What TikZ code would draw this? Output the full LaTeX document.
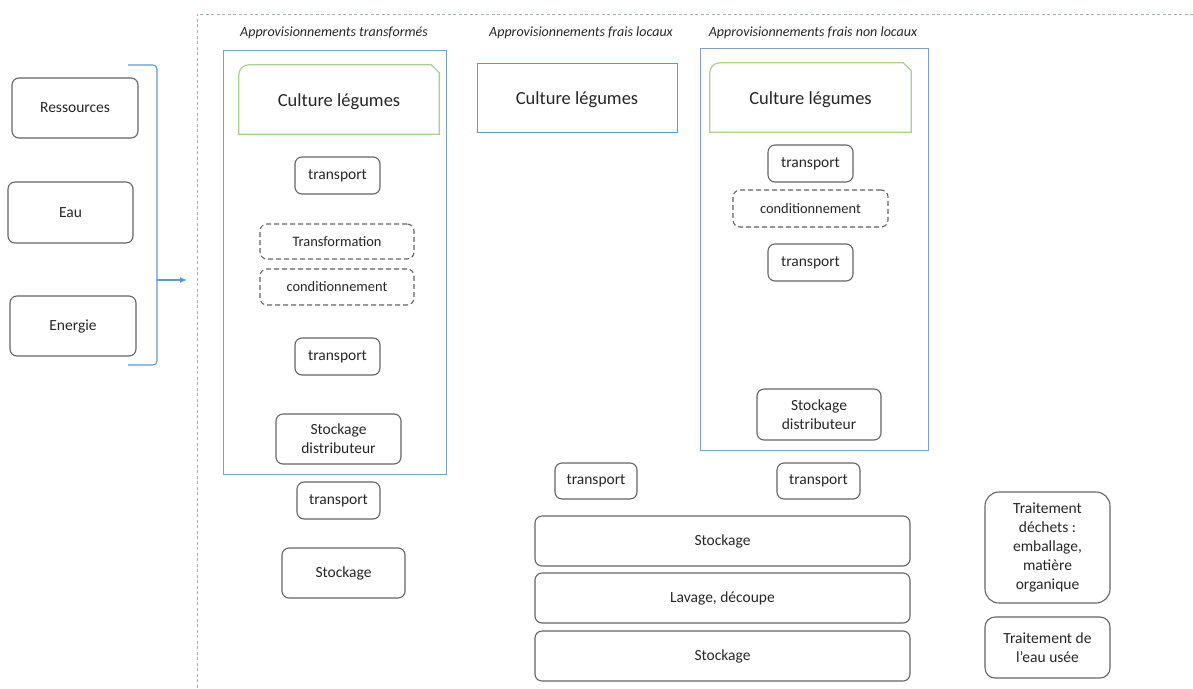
\documentclass[tikz,border=0pt]{standalone}
\usepackage{fontspec}
\setmainfont{Carlito}
\usetikzlibrary{arrows.meta}
\definecolor{boitegris}{RGB}{100,100,100}
\definecolor{texte}{RGB}{38,38,38}
\definecolor{bleu}{RGB}{91,155,213}
\definecolor{bleugroupe}{RGB}{125,160,205}
\definecolor{bleucadre}{RGB}{150,175,205}
\definecolor{vert}{RGB}{169,209,142}
\tikzstyle{etape}=[draw=boitegris,rounded corners=7pt,line width=1.1pt,align=center,text=texte,inner sep=0pt,font=\fontsize{15.5}{19}\selectfont]
\tikzstyle{etaped}=[etape,dashed,dash pattern=on 5pt off 3pt,font=\fontsize{14.4}{17}\selectfont]
\tikzstyle{groupe}=[draw=bleugroupe,line width=1pt,inner sep=0pt]
\tikzstyle{culture}=[inner sep=0pt,text=texte,text height=16pt,text depth=2pt,font=\fontsize{18.5}{22}\selectfont]
\tikzstyle{titre}=[text=texte,font=\itshape\fontsize{14}{17}\selectfont]

\begin{document}
\begin{tikzpicture}[x=1pt,y=-1pt]
    \useasboundingbox (0,0) rectangle (1193,688);
    % cadre pointille
    \draw[bleucadre,line width=1pt,dash pattern=on 3pt off 2.5pt] (1193,14) -- (197,14) -- (197,688);

    % ressources
    \node[etape,minimum width=126,minimum height=60] (res) at (75,108) {Ressources};
    \node[etape,minimum width=125,minimum height=61] (eau) at (70.5,212.5) {Eau};
    \node[etape,minimum width=126,minimum height=60] (ener) at (73,326) {Energie};
    \draw[bleu,line width=1.1pt,rounded corners=4pt] (128,65) -- (157,65) -- (157,365) -- (128,365);
    \coordinate (acc) at (157,280);
    \coordinate (entree) at (187,280);
    \draw[bleu,line width=1.1pt,-{Latex[length=7pt,width=6pt]}] (acc) -- (entree);

    % titres
    \node[titre] (t1) at (334,33) {Approvisionnements transformés};
    \node[titre] (t2) at (581,33) {Approvisionnements frais locaux};
    \node[titre] (t3) at (813,33) {Approvisionnements frais non locaux};

    % approvisionnements transformes
    \node[groupe,minimum width=223,minimum height=424] (grp1) at (334.5,262) {};
    \node[culture,minimum width=200,minimum height=69] (cult1) at (339,99.5) {Culture légumes};
    \node[etape,minimum width=85,minimum height=37] (trA1) at (337.5,175.5) {transport};
    \node[etaped,minimum width=154,minimum height=35] (transfo) at (337,241.5) {Transformation};
    \node[etaped,minimum width=154,minimum height=36] (condA) at (337,287) {conditionnement};
    \node[etape,minimum width=85,minimum height=37] (trA2) at (337.5,356.5) {transport};
    \node[etape,minimum width=125,minimum height=50] (stdA) at (338.5,439) {Stockage\\distributeur};
    \node[etape,minimum width=83,minimum height=37] (trA3) at (338.5,500.5) {transport};
    \node[etape,minimum width=123,minimum height=50] (stA) at (343.5,573) {Stockage};

    % approvisionnements frais locaux
    \node[culture,draw=bleu,line width=1pt,minimum width=200,minimum height=69] (cult2) at (577,97.5) {Culture légumes};
    \node[etape,minimum width=82,minimum height=36] (trB) at (596,481) {transport};

    % approvisionnements frais non locaux
    \node[groupe,minimum width=228,minimum height=402] (grp3) at (814,249) {};
    \node[culture,minimum width=201,minimum height=69] (cult3) at (810.5,97.5) {Culture légumes};
    \node[etape,minimum width=85,minimum height=37] (trC1) at (810.5,163.5) {transport};
    \node[etaped,minimum width=155,minimum height=37] (condC) at (810.5,208.5) {conditionnement};
    \node[etape,minimum width=85,minimum height=37] (trC2) at (810.5,262.5) {transport};
    \node[etape,minimum width=124,minimum height=51] (stdC) at (819,414.5) {Stockage\\distributeur};
    \node[etape,minimum width=83,minimum height=36] (trC3) at (818.5,481) {transport};

    \foreach \c in {cult1,cult3}
    \draw[vert,line width=1.2pt] (\c.south west) [rounded corners=10pt] -- (\c.north west) [sharp corners] -- ([xshift=-8pt]\c.north east) -- ([yshift=-8pt]\c.north east) -- (\c.south east) -- cycle;

    % etapes communes
    \node[etape,minimum width=375,minimum height=50] (stB1) at (722.5,541) {Stockage};
    \node[etape,minimum width=375,minimum height=50] (lav) at (722.5,598) {Lavage, découpe};
    \node[etape,minimum width=375,minimum height=50] (stB2) at (722.5,656) {Stockage};

    % traitements
    \node[etape,rounded corners=14pt,minimum width=125,minimum height=111] (dech) at (1047.5,547.5) {Traitement\\déchets :\\emballage,\\matière\\organique};
    \node[etape,rounded corners=10pt,minimum width=125,minimum height=61] (eauu) at (1047.5,647.5) {Traitement de\\l’eau usée};
\end{tikzpicture}
\end{document}
